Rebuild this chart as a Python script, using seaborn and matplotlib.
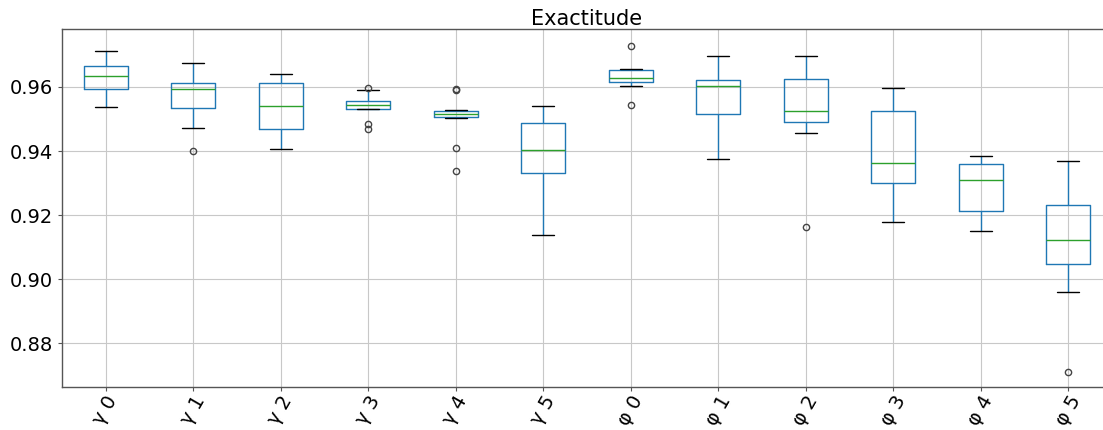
import pandas as pd
import seaborn as sns
import matplotlib
matplotlib.use("Agg")
import matplotlib.pyplot as plt

# one box per parameter setting; values
groups = ["γ 0", "γ 1", "γ 2", "γ 3", "γ 4", "γ 5",
          "φ 0", "φ 1", "φ 2", "φ 3", "φ 4", "φ 5"]

g0 = [0.9538, 0.9565, 0.9593, 0.9612, 0.9633, 0.9650, 0.9665, 0.9690, 0.9712]
g1 = [0.9400, 0.9473, 0.9535, 0.9570, 0.9593, 0.9600, 0.9613, 0.9645, 0.9675]
g2 = [0.9405, 0.9440, 0.9469, 0.9510, 0.9540, 0.9580, 0.9613, 0.9630, 0.9642]
g3 = [0.9470, 0.9485, 0.9530, 0.9531, 0.9535, 0.9540, 0.9543, 0.9548, 0.9553,
      0.9557, 0.9575, 0.9590, 0.9598]
g4 = [0.9338, 0.9408, 0.9504, 0.9506, 0.9510, 0.9514, 0.9517, 0.9520, 0.9522,
      0.9524, 0.9527, 0.9591, 0.9595]
g5 = [0.9138, 0.9250, 0.9330, 0.9370, 0.9402, 0.9440, 0.9488, 0.9515, 0.9540]
p0 = [0.9543, 0.9602, 0.9616, 0.9620, 0.9628, 0.9640, 0.9652, 0.9657, 0.9729]
p1 = [0.9374, 0.9450, 0.9517, 0.9560, 0.9602, 0.9612, 0.9623, 0.9660, 0.9696]
p2 = [0.9162, 0.9455, 0.9491, 0.9505, 0.9525, 0.9580, 0.9626, 0.9660, 0.9696]
p3 = [0.9177, 0.9240, 0.9299, 0.9330, 0.9362, 0.9450, 0.9525, 0.9570, 0.9598]
p4 = [0.9149, 0.9180, 0.9212, 0.9270, 0.9309, 0.9340, 0.9358, 0.9370, 0.9384]
p5 = [0.8710, 0.8959, 0.9048, 0.9090, 0.9123, 0.9180, 0.9232, 0.9300, 0.9369]

series = [g0, g1, g2, g3, g4, g5, p0, p1, p2, p3, p4, p5]

rows = []
for name, vals in zip(groups, series):
    for v in vals:
        rows.append({"group": name, "value": v})
df = pd.DataFrame(rows)

sns.set_style("white")
plt.rcParams["font.family"] = ["DejaVu Sans"]
plt.rcParams["text.color"] = "black"
plt.rcParams["xtick.color"] = "black"
plt.rcParams["ytick.color"] = "black"

fig = plt.figure(figsize=(11.03, 4.30), dpi=100)
ax = fig.add_axes([62 / 1103, 43 / 430, 1050 / 1103, 358 / 430])

sns.boxplot(data=df, x="group", y="value", order=groups, ax=ax,
            fill=False, color="#1f77b4", width=0.5, whis=1.5,
            linewidth=1.0, fliersize=4.5,
            medianprops={"color": "#2ca02c"},
            capprops={"color": "black"},
            flierprops={"marker": "o", "markeredgecolor": "#444444",
                        "markerfacecolor": "none"})

ax.set_xlim(-0.5, 11.5)
ax.set_ylim(0.8663, 0.9781)
ax.set_yticks([0.88, 0.90, 0.92, 0.94, 0.96])
ax.grid(True, color="#c8c8c8", linewidth=0.8)
ax.set_axisbelow(True)
ax.set_xlabel("")
ax.set_ylabel("")
ax.set_title("Exactitude", fontsize=15, pad=3, color="black")
ax.tick_params(axis="both", labelsize=14, length=3, color="#555555",
               labelcolor="black")
ax.tick_params(axis="x", rotation=60, pad=1)
ax.tick_params(axis="y", left=True)
ax.tick_params(axis="x", bottom=True)
for s in ax.spines.values():
    s.set_color("#555555")
    s.set_linewidth(1.0)

fig.savefig("out.png", dpi=100)
